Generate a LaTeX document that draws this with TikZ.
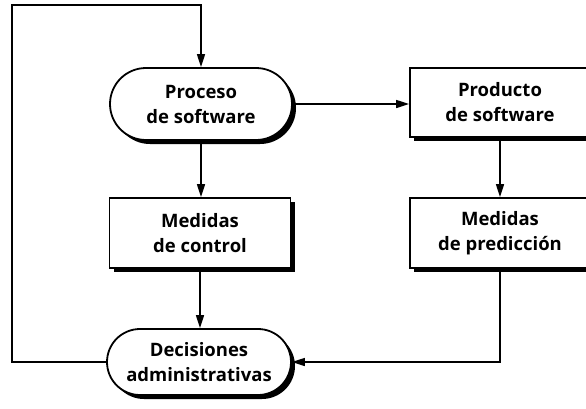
\documentclass[tikz,border=0pt]{standalone}
\usepackage{fontspec}
\setmainfont{Open Sans}
\usetikzlibrary{shapes.misc,arrows.meta,shadows}
\begin{document}
\begin{tikzpicture}[x=1pt,y=-1pt,
  txt/.style={align=center,font=\fontsize{18.5pt}{25pt}\selectfont\bfseries,inner sep=0pt},
  shad/.style={drop shadow={shadow xshift=4pt,shadow yshift=-4pt,opacity=1,fill=black}},
  pill/.style={txt,rounded rectangle,draw,line width=1.8pt,fill=white,shad,minimum width=182pt},
  boxx/.style={txt,rectangle,draw,line width=1.8pt,fill=white,shad,minimum width=181pt},
  conn/.style={line width=1.4pt,-{Triangle[length=13pt,width=8pt]}}]
\useasboundingbox (0,0) rectangle (586,408);
\node[pill,minimum height=72pt] (proc) at (201,104) {Proceso\\de software};
\node[boxx,minimum height=69pt,minimum width=180pt] (prod) at (500,102.5) {Producto\\de software};
\node[boxx,minimum height=70pt] (mctl) at (200,233) {Medidas\\de control};
\node[boxx,minimum height=70pt,minimum width=180pt] (mpred) at (500,233) {Medidas\\de predicción};
\node[pill,minimum height=66pt,minimum width=184pt] (dec) at (199,362) {Decisiones\\administrativas};
\coordinate (c1) at (12,362);
\coordinate (c2) at (12,5);
\coordinate (c3) at (201,5);
\coordinate (c4) at (500,362);
\draw[conn] (proc.east) -- (proc.east -| prod.west);
\draw[conn] (proc.south) -- (proc.south |- mctl.north);
\draw[conn] (prod.south) -- (mpred.north);
\draw[conn] (mctl.south) -- (mctl.south |- dec.north);
\draw[conn] (mpred.south) -- (c4) -- (dec.east);
\draw[conn] (dec.west) -- (c1) -- (c2) -- (c3) -- (proc.north);
\end{tikzpicture}
\end{document}
